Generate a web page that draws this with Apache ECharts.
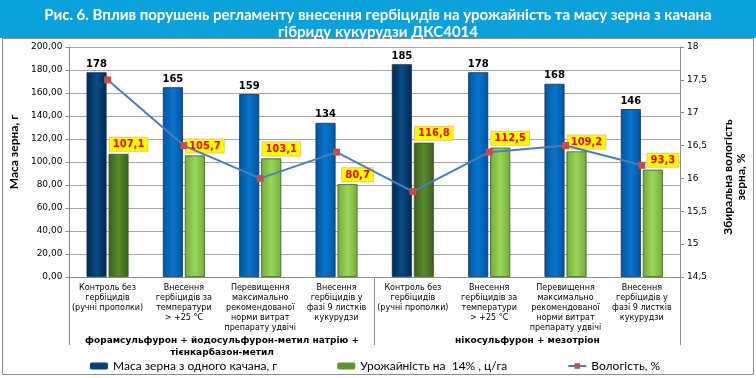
<!DOCTYPE html>
<html>
<head>
<meta charset="utf-8">
<script src="https://cdn.jsdelivr.net/npm/echarts@6/dist/echarts.min.js"></script>
<style>
html,body{margin:0;padding:0;background:#fff;}
#chart{width:756px;height:378px;}
</style>
</head>
<body>
<div id="chart"></div>
<script>
const categories = [
  'Контроль без\nгербіцидів\n(ручні прополки)',
  'Внесення\nгербіцидів за\nтемператури\n> +25 °С',
  'Перевищення\nмаксимально\nрекомендованої\nнорми витрат\nпрепарату удвічі',
  'Внесення\nгербіцидів у\nфазі 9 листків\nкукурудзи',
  'Контроль без\nгербіцидів\n(ручні прополки)',
  'Внесення\nгербіцидів за\nтемператури\n> +25 °С',
  'Перевищення\nмаксимально\nрекомендованої\nнорми витрат\nпрепарату удвічі',
  'Внесення\nгербіцидів у\nфазі 9 листків\nкукурудзи'
];
const groups = [
  'форамсульфурон + йодосульфурон-метил натрію +\nтієнкарбазон-метил',
  'нікосульфурон + мезотріон'
];
const massValues = [178, 165, 159, 134, 185, 178, 168, 146];
const yieldValues = [107.1, 105.7, 103.1, 80.7, 116.8, 112.5, 109.2, 93.3];
const moistureValues = [17.5, 16.5, 16.0, 16.4, 15.8, 16.4, 16.5, 16.2];
const seriesNames = ['Маса зерна з одного качана, г', 'Урожайність на  14% , ц/га', 'Вологість, %'];
const titleLines = ['Рис. 6.', 'Вплив порушень регламенту внесення гербіцидів на урожайність та масу зерна з качана', 'гібриду кукурудзи ДКС4014'];
const leftAxisName = 'Маса зерна, г';
const rightAxisName = 'Збиральна вологість\nзерна, %';

function grad(edge, mid) {
  return new echarts.graphic.LinearGradient(0, 0, 1, 0, [
    {offset: 0, color: edge}, {offset: 0.5, color: mid}, {offset: 1, color: edge}
  ]);
}
const darkBlue = grad('#002a52', '#0b4a84');
const blue = grad('#0055a0', '#0a74cc');
const darkGreen = grad('#3c5f1c', '#5a8a30');
const green = grad('#74ab3c', '#9ad65a');

const chart = echarts.init(document.getElementById('chart'));
const fmt2 = v => v.toFixed(2).replace('.', ',');
const fmtR = v => String(v).replace('.', ',');

chart.setOption({
  animation: false,
  textStyle: {fontFamily: 'DejaVu Sans'},
  title: {
    text: '{b|' + titleLines[0] + '} ' + titleLines[1] + '\n' + titleLines[2],
    left: 'center', top: 2,
    textStyle: {
      color: '#fff', fontFamily: 'Lato', fontSize: 15, lineHeight: 17,
      rich: {b: {color: '#fff', fontFamily: 'Lato', fontWeight: 'bold', fontSize: 15, lineHeight: 17}}
    }
  },
  graphic: [
    {type: 'rect', z: -1, shape: {x: 0, y: 0, width: 756, height: 38}, style: {fill: '#0ba2dc'}},
    {type: 'rect', z: -1, shape: {x: 2.5, y: 38.5, width: 751, height: 336}, style: {fill: 'none', stroke: '#8c8c8c', lineWidth: 1}}
  ],
  legend: {
    left: 85, top: 355, itemGap: 60, itemWidth: 18, itemHeight: 7,
    textStyle: {fontFamily: 'Lato', fontSize: 12, color: '#000'},
    data: [
      {name: seriesNames[0], itemStyle: {color: '#0d3f73', borderWidth: 0}},
      {name: seriesNames[1], itemStyle: {color: '#5f9333', borderWidth: 0}},
      {name: seriesNames[2]}
    ]
  },
  grid: {left: 68, right: 72, top: 47, bottom: 101},
  xAxis: [
    {
      type: 'category', data: categories,
      axisLine: {lineStyle: {color: '#8c8c8c'}},
      axisTick: {show: false},
      axisLabel: {interval: 0, margin: 6, fontSize: 8, lineHeight: 10, color: '#000', fontFamily: 'DejaVu Sans'}
    },
    {
      type: 'category', data: groups, position: 'bottom',
      axisLine: {show: false},
      axisTick: {show: true, length: 68, lineStyle: {color: '#8c8c8c'}},
      axisLabel: {interval: 0, margin: 58, fontSize: 9, lineHeight: 12, fontWeight: 'bold', color: '#000', fontFamily: 'DejaVu Sans'}
    }
  ],
  yAxis: [
    {
      type: 'value', min: 0, max: 200, interval: 20,
      name: leftAxisName, nameLocation: 'middle', nameGap: 48, nameRotate: 90,
      nameTextStyle: {fontFamily: 'Lato', fontWeight: 'bold', fontSize: 12, color: '#000', padding: [0, 0, 0, 20]},
      axisLine: {show: true, lineStyle: {color: '#8c8c8c'}},
      axisTick: {show: true, length: 4, lineStyle: {color: '#8c8c8c'}},
      axisLabel: {formatter: fmt2, fontSize: 9, color: '#000', margin: 7},
      splitLine: {lineStyle: {color: '#a6a6a6'}}
    },
    {
      type: 'value', min: 14.5, max: 18, interval: 0.5,
      name: rightAxisName, nameLocation: 'middle', nameGap: 42, nameRotate: 90,
      nameTextStyle: {fontFamily: 'Lato', fontWeight: 'bold', fontSize: 12, color: '#000', lineHeight: 13, padding: [0, 30, 0, 0]},
      axisLine: {show: true, lineStyle: {color: '#8c8c8c'}},
      axisTick: {show: true, length: 4, lineStyle: {color: '#8c8c8c'}},
      axisLabel: {formatter: fmtR, fontSize: 9, color: '#000', margin: 7},
      splitLine: {show: false}
    }
  ],
  series: [
    {
      name: seriesNames[0], type: 'bar', data: massValues, barWidth: 20, barGap: '10%',
      itemStyle: {
        color: p => (p.dataIndex % 4 === 0 ? darkBlue : blue),
        borderColor: '#0d2f55', borderWidth: 0.8
      },
      label: {show: true, position: 'top', distance: 3, fontWeight: 'bold', fontSize: 10, color: '#000', fontFamily: 'DejaVu Sans'}
    },
    {
      name: seriesNames[1], type: 'bar', data: yieldValues, barWidth: 20,
      itemStyle: {
        color: p => (p.dataIndex % 4 === 0 ? darkGreen : green),
        borderColor: '#3a5a1c', borderWidth: 0.8
      },
      label: {
        show: true, position: 'top', distance: 3, offset: [10, 0],
        formatter: p => fmtR(p.value),
        fontWeight: 'bold', fontSize: 10, color: '#ff0000', fontFamily: 'DejaVu Sans',
        backgroundColor: '#ffff00', borderColor: '#f5c06a', borderWidth: 1, padding: [2, 3, 1, 3]
      }
    },
    {
      name: seriesNames[2], type: 'line', yAxisIndex: 1, data: moistureValues,
      symbol: 'rect', symbolSize: 7,
      itemStyle: {color: '#c0504d'},
      lineStyle: {color: '#4a7ebb', width: 2},
      z: 3
    }
  ]
});
</script>
</body>
</html>
